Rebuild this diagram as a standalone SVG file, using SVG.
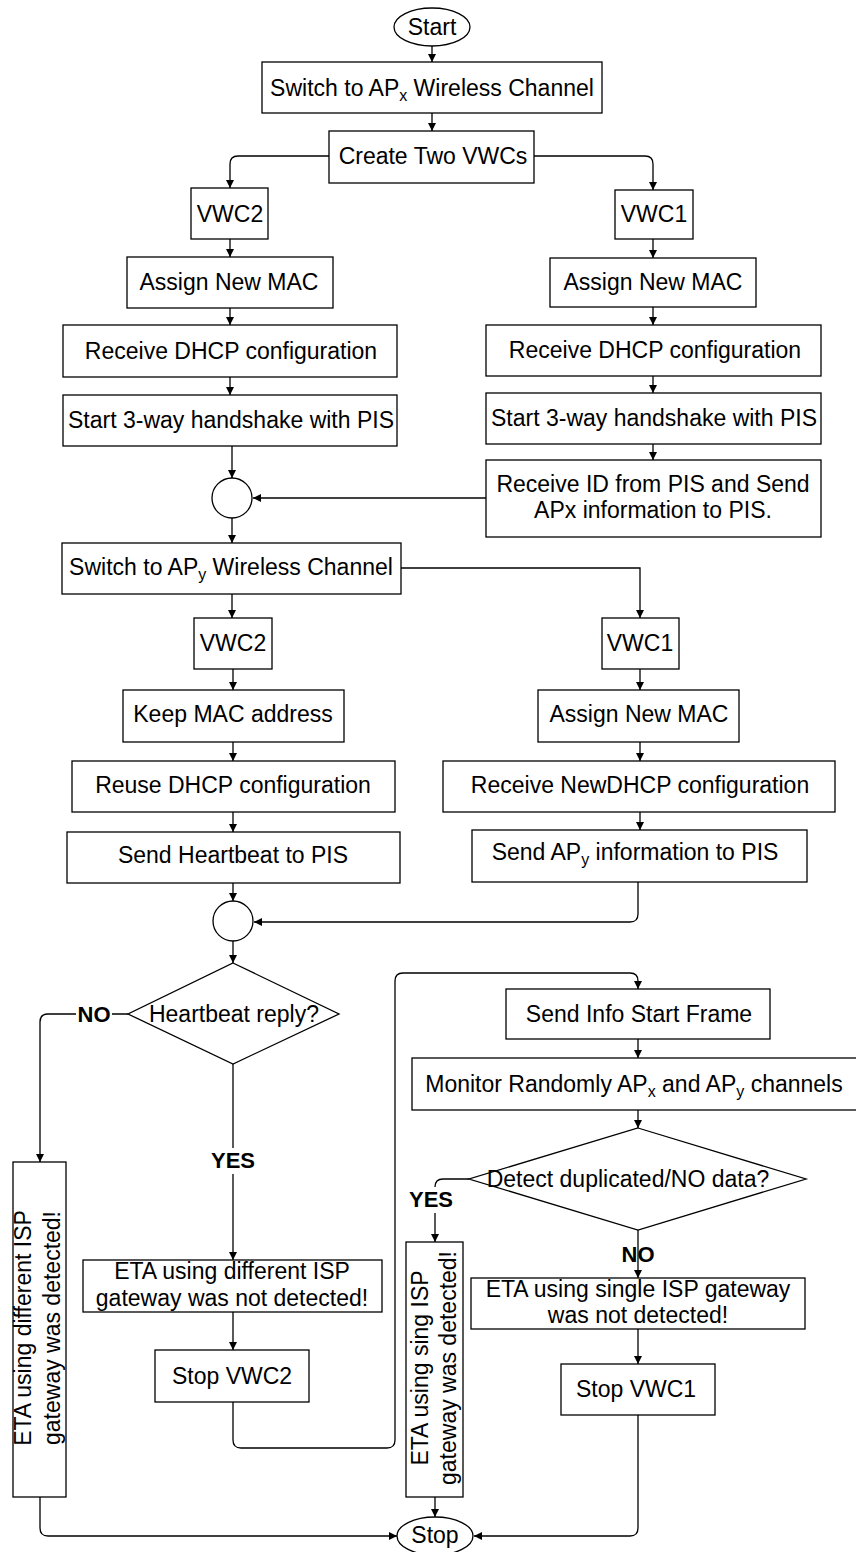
<svg xmlns="http://www.w3.org/2000/svg" width="856" height="1552" viewBox="0 0 856 1552">
<defs>
<style>
.n{fill:#fff;stroke:#000;stroke-width:1.3}
.t{font-family:"Liberation Sans",Arial,sans-serif;font-size:23px;fill:#000;text-anchor:middle}
.b{font-family:"Liberation Sans",Arial,sans-serif;font-size:22px;font-weight:bold;fill:#000;text-anchor:middle}
.c{fill:none;stroke:#000;stroke-width:1.3}
.s{font-size:16px}
</style>
<marker id="a" viewBox="0 0 10 10" refX="10" refY="5" markerWidth="8" markerHeight="8" markerUnits="userSpaceOnUse" orient="auto"><path d="M0,0L10,5L0,10z" fill="#000"/></marker>
</defs>
<rect width="856" height="1552" fill="#fff"/>
<g id="connectors" class="c" marker-end="url(#a)">
<path d="M432,46V62"/>
<path d="M432,113V131"/>
<path d="M329,156H238Q230,156 230,164V188"/>
<path d="M534,156H645Q653,156 653,164V190"/>
<path d="M230,239V257"/>
<path d="M230,308V325"/>
<path d="M230,377V395"/>
<path d="M232,446V478"/>
<path d="M653,239V258"/>
<path d="M653,307V325"/>
<path d="M653,376V393"/>
<path d="M653,444V460"/>
<path d="M486,498H253"/>
<path d="M232,518V543"/>
<path d="M232,594V618"/>
<path d="M401,568H640V618"/>
<path d="M233,669V690"/>
<path d="M233,742V761"/>
<path d="M233,812V832"/>
<path d="M233,883V901"/>
<path d="M640,669V690"/>
<path d="M640,742V761"/>
<path d="M640,812V830"/>
<path d="M638,882V914Q638,922 630,922H254"/>
<path d="M233,941V963"/>
<path d="M128,1014H48Q40,1014 40,1022V1162"/>
<path d="M233,1064V1260"/>
<path d="M233,1312V1350"/>
<path d="M233,1402V1440Q233,1448 241,1448H387Q395,1448 395,1440V981Q395,973 403,973H630Q638,973 638,981V989"/>
<path d="M638,1039V1058"/>
<path d="M638,1110V1128"/>
<path d="M469,1179H443Q435,1179 435,1187V1242"/>
<path d="M638,1230V1278"/>
<path d="M638,1329V1364"/>
<path d="M638,1415V1528Q638,1536 630,1536H474"/>
<path d="M40,1497V1528Q40,1536 48,1536H397"/>
<path d="M435,1497V1517"/>
</g>
<g id="labels">
<rect x="76" y="1002" width="36" height="24" fill="#fff"/>
<text class="b" x="94" y="1022">NO</text>
<rect x="206" y="1148" width="54" height="26" fill="#fff"/>
<text class="b" x="233" y="1168">YES</text>
<rect x="406" y="1187" width="50" height="26" fill="#fff"/>
<text class="b" x="431" y="1207">YES</text>
<text class="b" x="638" y="1262">NO</text>
</g>
<g id="start"><ellipse class="n" cx="432" cy="27" rx="38" ry="19"/><text class="t" x="432" y="35">Start</text></g>
<g id="switchx"><rect class="n" x="262" y="62" width="340" height="51"/><text class="t" x="432" y="96">Switch to AP<tspan class="s" dy="5">x</tspan><tspan dy="-5"> Wireless Channel</tspan></text></g>
<g id="create"><rect class="n" x="329" y="131" width="205" height="52"/><text class="t" x="433" y="164">Create Two VWCs</text></g>
<g id="vwc2a"><rect class="n" x="191" y="188" width="77" height="51"/><text class="t" x="230" y="222">VWC2</text></g>
<g id="vwc1a"><rect class="n" x="615" y="190" width="78" height="49"/><text class="t" x="654" y="222">VWC1</text></g>
<g id="maca"><rect class="n" x="127" y="257" width="206" height="51"/><text class="t" x="229" y="290">Assign New MAC</text></g>
<g id="macb"><rect class="n" x="550" y="258" width="206" height="49"/><text class="t" x="653" y="290">Assign New MAC</text></g>
<g id="dhcpa"><rect class="n" x="63" y="325" width="334" height="52"/><text class="t" x="231" y="359">Receive DHCP configuration</text></g>
<g id="dhcpb"><rect class="n" x="486" y="325" width="335" height="51"/><text class="t" x="655" y="358">Receive DHCP configuration</text></g>
<g id="hsa"><rect class="n" x="63" y="395" width="334" height="51"/><text class="t" x="231" y="428">Start 3-way handshake with PIS</text></g>
<g id="hsb"><rect class="n" x="486" y="393" width="335" height="51"/><text class="t" x="654" y="426">Start 3-way handshake with PIS</text></g>
<g id="rid"><rect class="n" x="486" y="460" width="335" height="77"/><text class="t" x="653" y="492">Receive ID from PIS and Send</text><text class="t" x="653" y="518">APx information to PIS.</text></g>
<g id="j1"><ellipse class="n" cx="232" cy="498" rx="20" ry="20"/></g>
<g id="switchy"><rect class="n" x="62" y="543" width="339" height="51"/><text class="t" x="231" y="575">Switch to AP<tspan class="s" dy="5">y</tspan><tspan dy="-5"> Wireless Channel</tspan></text></g>
<g id="vwc2b"><rect class="n" x="194" y="618" width="78" height="51"/><text class="t" x="233" y="651">VWC2</text></g>
<g id="vwc1b"><rect class="n" x="602" y="618" width="77" height="51"/><text class="t" x="640" y="651">VWC1</text></g>
<g id="keep"><rect class="n" x="123" y="690" width="221" height="52"/><text class="t" x="233" y="722">Keep MAC address</text></g>
<g id="macc"><rect class="n" x="538" y="690" width="201" height="52"/><text class="t" x="639" y="722">Assign New MAC</text></g>
<g id="reuse"><rect class="n" x="72" y="761" width="323" height="51"/><text class="t" x="233" y="793">Reuse DHCP configuration</text></g>
<g id="newdhcp"><rect class="n" x="443" y="761" width="392" height="51"/><text class="t" x="640" y="793">Receive NewDHCP configuration</text></g>
<g id="hb"><rect class="n" x="67" y="832" width="333" height="51"/><text class="t" x="233" y="863">Send Heartbeat to PIS</text></g>
<g id="apy"><rect class="n" x="472" y="830" width="335" height="52"/><text class="t" x="635" y="860">Send AP<tspan class="s" dy="5">y</tspan><tspan dy="-5"> information to PIS</tspan></text></g>
<g id="j2"><ellipse class="n" cx="233" cy="921" rx="20" ry="20"/></g>
<g id="d1"><polygon class="n" points="233,963 339,1014 233,1064 128,1014"/><text class="t" x="234" y="1022">Heartbeat reply?</text></g>
<g id="etadiff"><rect class="n" x="13" y="1162" width="53" height="335"/><text class="t" transform="translate(40,1328) rotate(-90)"><tspan x="0" y="-9">ETA using different ISP</tspan><tspan x="0" y="20">gateway was detected!</tspan></text></g>
<g id="etanot"><rect class="n" x="83" y="1260" width="299" height="52"/><text class="t" x="232" y="1279">ETA using different ISP</text><text class="t" x="232" y="1306">gateway was not detected!</text></g>
<g id="stop2"><rect class="n" x="155" y="1350" width="154" height="52"/><text class="t" x="232" y="1384">Stop VWC2</text></g>
<g id="info"><rect class="n" x="506" y="989" width="264" height="50"/><text class="t" x="639" y="1022">Send Info Start Frame</text></g>
<g id="monitor"><rect class="n" x="412" y="1058" width="450" height="52"/><text class="t" x="634" y="1092">Monitor Randomly AP<tspan class="s" dy="5">x</tspan><tspan dy="-5"> and AP</tspan><tspan class="s" dy="5">y</tspan><tspan dy="-5"> channels</tspan></text></g>
<g id="d2"><polygon class="n" points="638,1128 806,1179 638,1230 469,1179"/><text class="t" x="628" y="1187">Detect duplicated/NO data?</text></g>
<g id="etasing"><rect class="n" x="406" y="1242" width="57" height="255"/><text class="t" transform="translate(435,1368) rotate(-90)"><tspan x="0" y="-7">ETA using sing ISP</tspan><tspan x="0" y="21">gateway was detected!</tspan></text></g>
<g id="etasnot"><rect class="n" x="471" y="1278" width="334" height="51"/><text class="t" x="638" y="1297">ETA using single ISP gateway</text><text class="t" x="638" y="1323">was not detected!</text></g>
<g id="stop1"><rect class="n" x="561" y="1364" width="154" height="51"/><text class="t" x="636" y="1397">Stop VWC1</text></g>
<g id="stop"><ellipse class="n" cx="435" cy="1536" rx="38" ry="19"/><text class="t" x="435" y="1543">Stop</text></g>
</svg>
